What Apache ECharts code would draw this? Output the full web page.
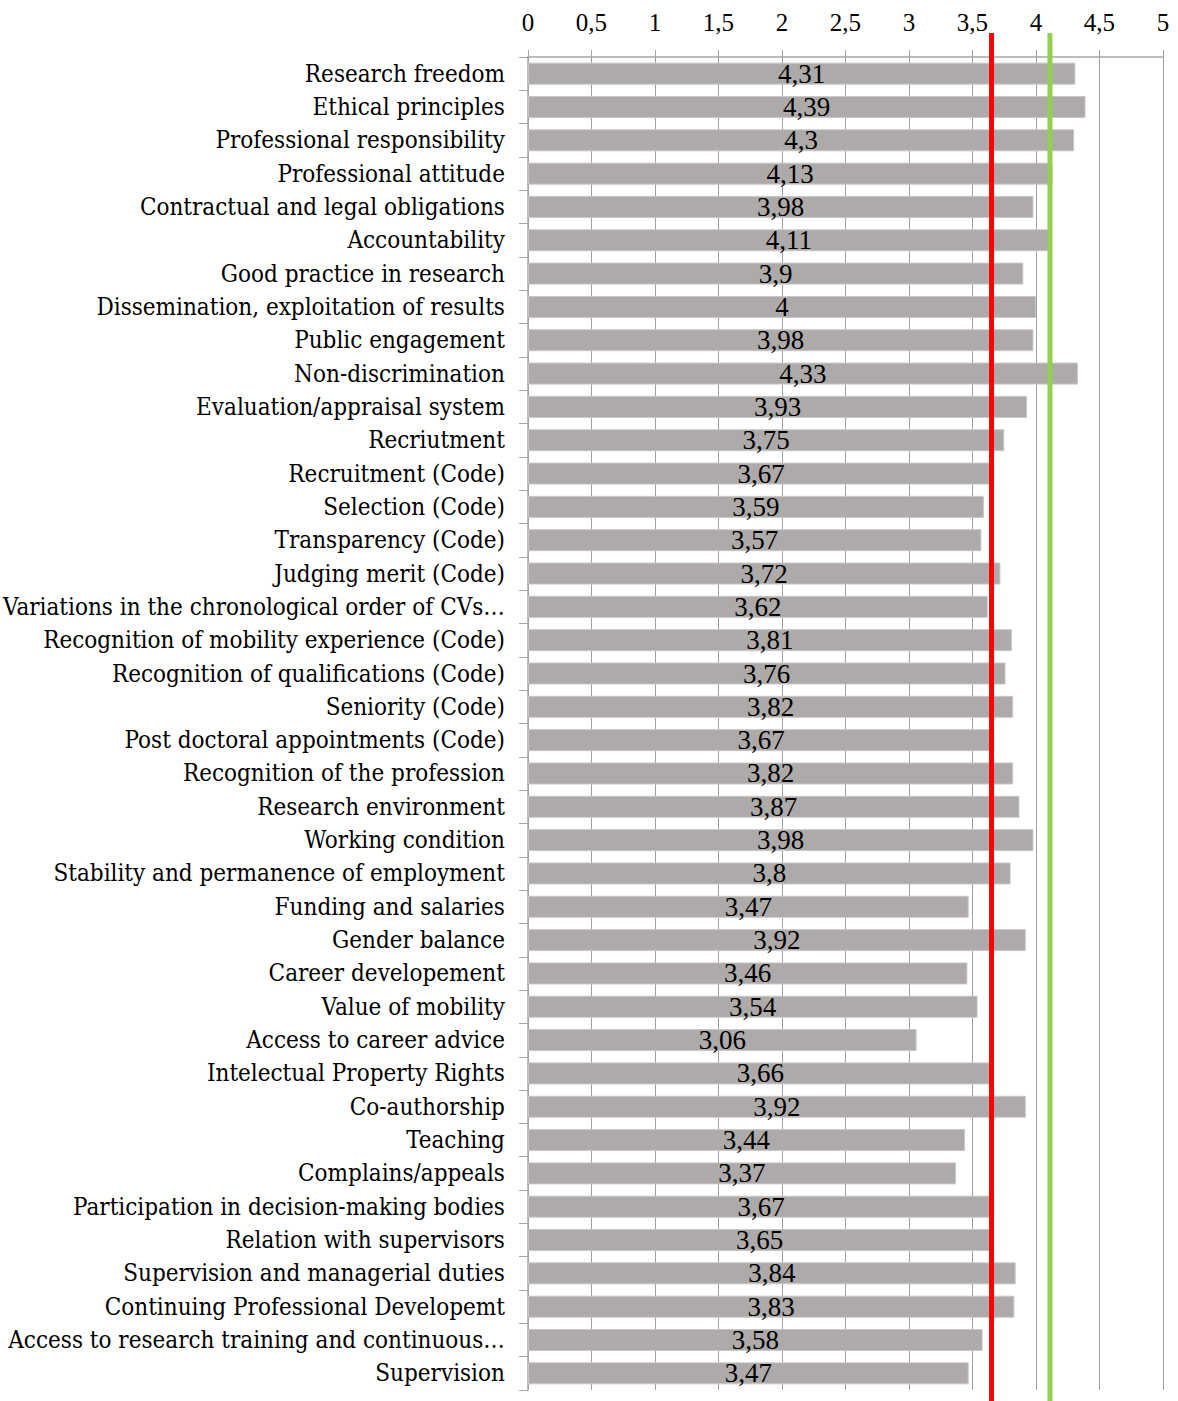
<!DOCTYPE html>
<html>
<head>
<meta charset="utf-8">
<script src="https://cdn.jsdelivr.net/npm/echarts@6/dist/echarts.min.js"></script>
<style>
  html, body { margin: 0; padding: 0; background: #fff; }
  #chart { width: 1178px; height: 1401px; }
</style>
</head>
<body>
<div id="chart"></div>
<script>
const categories = [
  "Research freedom", "Ethical principles", "Professional responsibility",
  "Professional attitude", "Contractual and legal obligations", "Accountability",
  "Good practice in research", "Dissemination, exploitation of results",
  "Public engagement", "Non-discrimination", "Evaluation/appraisal system",
  "Recriutment", "Recruitment (Code)", "Selection (Code)", "Transparency (Code)",
  "Judging merit (Code)", "Variations in the chronological order of CVs…",
  "Recognition of mobility experience (Code)", "Recognition of qualifications (Code)",
  "Seniority (Code)", "Post doctoral appointments (Code)", "Recognition of the profession",
  "Research environment", "Working condition", "Stability and permanence of employment",
  "Funding and salaries", "Gender balance", "Career developement", "Value of mobility",
  "Access to career advice", "Intelectual Property Rights", "Co-authorship", "Teaching",
  "Complains/appeals", "Participation in decision-making bodies",
  "Relation with supervisors", "Supervision and managerial duties",
  "Continuing Professional Developemt", "Access to research training and continuous…",
  "Supervision"
]
const values = [
  4.31, 4.39, 4.3, 4.13, 3.98, 4.11, 3.9, 4, 3.98, 4.33,
  3.93, 3.75, 3.67, 3.59, 3.57, 3.72, 3.62, 3.81, 3.76, 3.82,
  3.67, 3.82, 3.87, 3.98, 3.8, 3.47, 3.92, 3.46, 3.54, 3.06,
  3.66, 3.92, 3.44, 3.37, 3.67, 3.65, 3.84, 3.83, 3.58, 3.47
]
const redLine = 3.65
const greenLine = 4.11
const xMin = 0, xMax = 5, xStep = 0.5

const comma = v => String(v).replace(".", ",")

let chart = echarts.init(document.getElementById("chart"), null, { renderer: "svg" })

chart.setOption({
  animation: false,
  grid: { left: 527, top: 57, width: 636, height: 1333, containLabel: false },
  xAxis: {
    type: "value",
    position: "top",
    min: xMin, max: xMax, interval: xStep,
    axisLine: { show: true, lineStyle: { color: "#a6a6a6", width: 1.5 } },
    axisTick: { show: true, inside: false, length: 7, lineStyle: { color: "#a6a6a6" } },
    splitLine: { show: true, lineStyle: { color: "#a0a0a0", width: 1 } },
    axisLabel: {
      formatter: comma, margin: 22,
      fontFamily: "Liberation Serif", fontSize: 25, color: "#000"
    }
  },
  yAxis: {
    type: "category",
    inverse: true,
    data: categories,
    axisLine: { show: true, lineStyle: { color: "#a6a6a6", width: 1.5 } },
    axisTick: { show: true, length: 9, lineStyle: { color: "#a6a6a6" } },
    axisLabel: {
      margin: 23, interval: 0,
      fontFamily: "'DejaVu Serif Condensed', 'DejaVu Serif'", fontSize: 24, color: "#000"
    }
  },
  series: [{
    type: "bar",
    data: values,
    barCategoryGap: "34%",
    itemStyle: { color: "#aeaaaa", borderColor: "#c9c6c6", borderWidth: 1 },
    label: {
      show: true, position: "inside", formatter: p => comma(p.value),
      fontFamily: "Liberation Serif", fontSize: 27, color: "#000"
    }
  }]
})

// reference lines, extended a little beyond the plot like the original
const lineTop = 33, lineBottom = 1401
const refLine = (val, color) => {
  const x = chart.convertToPixel({ xAxisIndex: 0 }, val)
  return {
    type: "line", z: 100,
    shape: { x1: x, y1: lineTop, x2: x, y2: lineBottom },
    style: { stroke: color, lineWidth: 5 }
  }
}
chart.setOption({ graphic: [refLine(redLine, "#ff0000"), refLine(greenLine, "#92d050")] })
</script>
</body>
</html>
